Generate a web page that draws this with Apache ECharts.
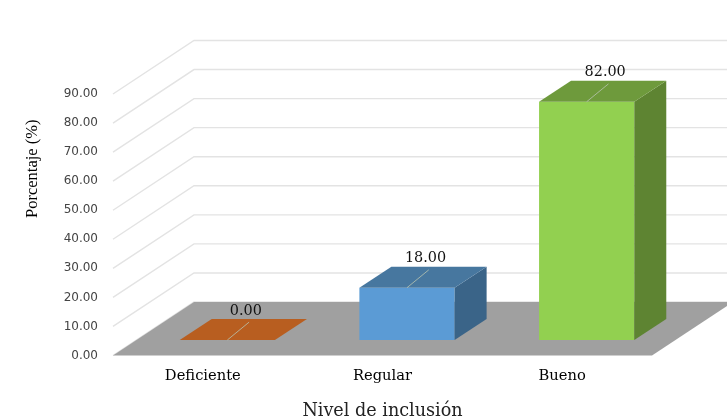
<!DOCTYPE html>
<html>
<head>
<meta charset="utf-8">
<style>html,body{margin:0;padding:0;background:#fff}#chart{width:727px;height:419px}</style>
<script src="https://cdn.jsdelivr.net/npm/echarts@6/dist/echarts.min.js"></script>
</head>
<body>
<div id="chart"></div>
<script>
// Survey results: share of respondents per inclusion level
const categories = ['Deficiente', 'Regular', 'Bueno'];
const percentages = [0, 18, 82];
const valueTicks = [0, 10, 20, 30, 40, 50, 60, 70, 80, 90];
const frontColours = ['#C55A11', '#5B9BD5', '#92D050'];
const topColours = ['#B85E20', '#47779F', '#6E9A3C'];
const sideColours = ['#A04E18', '#3A6488', '#5E8432'];

// Oblique projection used for the pseudo-3D floor, walls and boxes
const wallDepth = { x: 81, y: -53.5 };
const barOffset = { x: 24.5, y: -15.5 };
const barDepth = { x: 32, y: -21 };
const barWidthRatio = 0.53;

const chart = echarts.init(document.getElementById('chart'));

function polygon(points, fill, z2) {
  return { type: 'polygon', z2: z2 || 0, shape: { points: points }, style: { fill: fill } };
}

function renderGridLine(params, api) {
  const sys = params.coordSys;
  const y = api.coord([0, api.value(0)])[1];
  return {
    type: 'polyline',
    shape: { points: [[sys.x, y], [sys.x + wallDepth.x, y + wallDepth.y], [sys.x + sys.width + wallDepth.x, y + wallDepth.y]] },
    style: { fill: null, stroke: '#E3E3E3', lineWidth: 1.4 }
  };
}

function renderFloor(params, api) {
  const sys = params.coordSys;
  const y = api.coord([0, 0])[1];
  const l = sys.x, r = sys.x + sys.width;
  return polygon([[l, y], [r, y], [r + wallDepth.x, y + wallDepth.y], [l + wallDepth.x, y + wallDepth.y]], '#A0A0A0');
}

function renderBar(params, api) {
  const i = api.value(0);
  const value = api.value(1);
  const width = api.size([1, 0])[0] * barWidthRatio;
  const base = api.coord([i, 0]);
  const top = api.coord([i, value]);
  const x0 = base[0] + barOffset.x - width / 2;
  const x1 = x0 + width;
  const yBase = base[1] + barOffset.y;
  const yTop = top[1] + barOffset.y;
  const dx = barDepth.x, dy = barDepth.y;
  const midX = (x0 + x1) / 2;
  const children = [];
  if (value > 0) {
    children.push(polygon([[x0, yBase], [x1, yBase], [x1, yTop], [x0, yTop]], frontColours[i]));
    children.push(polygon([[x1, yBase], [x1 + dx, yBase + dy], [x1 + dx, yTop + dy], [x1, yTop]], sideColours[i]));
  }
  children.push(polygon([[x0, yTop], [x1, yTop], [x1 + dx, yTop + dy], [x0 + dx, yTop + dy]], topColours[i]));
  // Leader line from the box's front edge up to its value label
  children.push({
    type: 'line', z2: 2,
    shape: { x1: midX, y1: yTop, x2: midX + dx * 0.68, y2: yTop + dy * 0.85 },
    style: { stroke: '#B8C4B0', lineWidth: 1, opacity: 0.8 }
  });
  children.push({
    type: 'text', z2: 3,
    style: {
      text: value.toFixed(2),
      x: midX + 18.5, y: yTop + dy - 8,
      align: 'center', verticalAlign: 'middle',
      font: '14.4px "DejaVu Serif"', fill: '#111'
    }
  });
  return { type: 'group', children: children };
}

chart.setOption({
  animation: false,
  backgroundColor: '#ffffff',
  grid: { left: 113, right: 75, top: 94, bottom: 63.5, outerBoundsMode: 'none' },
  xAxis: {
    type: 'category',
    data: categories,
    axisLine: { show: false },
    axisTick: { show: false },
    axisLabel: { margin: 13, color: '#000', fontFamily: 'DejaVu Serif', fontSize: 14.7 },
    name: 'Nivel de inclusión',
    nameLocation: 'middle',
    nameGap: 47,
    nameTextStyle: { fontFamily: 'DejaVu Serif', fontSize: 17.6, color: '#222' }
  },
  yAxis: {
    type: 'value',
    min: 0,
    max: 90,
    interval: 10,
    axisLine: { show: false },
    axisTick: { show: false },
    splitLine: { show: false },
    axisLabel: { margin: 15, fontFamily: 'DejaVu Sans', fontSize: 12, color: '#444', formatter: v => v.toFixed(2) },
    name: 'Porcentaje (%)',
    nameLocation: 'middle',
    nameGap: 72,
    nameTextStyle: { fontFamily: 'Liberation Serif', fontSize: 16.5, color: '#000', padding: [0, 0, 0, 112] }
  },
  series: [
    { type: 'custom', z: 1, renderItem: renderGridLine, data: valueTicks.map(v => [v]), encode: { y: 0 }, silent: true },
    { type: 'custom', z: 2, renderItem: renderFloor, data: [[0]], encode: { y: 0 }, silent: true },
    { type: 'custom', z: 3, renderItem: renderBar, data: percentages.map((v, i) => [i, v]), encode: { x: 0, y: 1 }, silent: true }
  ]
});
</script>
</body>
</html>
